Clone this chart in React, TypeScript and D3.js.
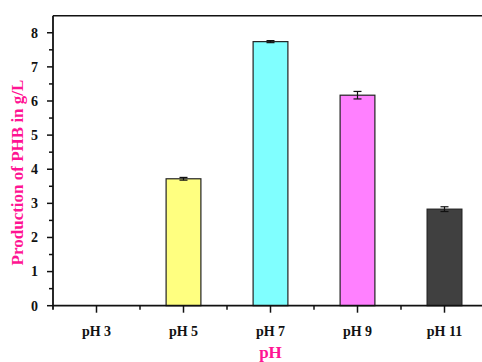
import React from "react";
import * as d3 from "d3";

const categories = ["pH 3", "pH 5", "pH 7", "pH 9", "pH 11"];
const values = [0, 3.72, 7.74, 6.17, 2.83];
const errors = [0, 0.04, 0.03, 0.11, 0.07];
const colors = ["#ffffff", "#ffff80", "#80ffff", "#ff80ff", "#404040"];
const yTicks = [0, 1, 2, 3, 4, 5, 6, 7, 8];
const yMinor = [0.5, 1.5, 2.5, 3.5, 4.5, 5.5, 6.5, 7.5];
const xMinor = [0.5, 1.5, 2.5, 3.5];

const W = 482;
const H = 362;
const left = 53;
const top = 15.7;
const bottom = 305.7;
const step = 87;

export default function App() {
  const x = d3.scaleLinear().domain([-0.5, 4.5]).range([left, left + step * 5]);
  const y = d3.scaleLinear().domain([0, 8.5]).range([bottom, top]);
  const bw = step * 0.4;
  const font = "'Liberation Serif', 'Times New Roman', serif";
  const pink = "#ff1493";
  return (
    <svg width={W} height={H} style={{ position: "absolute", left: 0, top: 0, background: "#fff" }}>
      {/* bars */}
      {values.map((v, i) =>
        v > 0 ? (
          <g key={i}>
            <rect
              x={x(i) - bw / 2}
              y={y(v)}
              width={bw}
              height={bottom - y(v)}
              fill={colors[i]}
              stroke="#222"
              strokeWidth={1.2}
            />
            <line x1={x(i)} x2={x(i)} y1={y(v + errors[i])} y2={y(v - errors[i])} stroke="#111" strokeWidth={1.2} />
            <line x1={x(i) - 4} x2={x(i) + 4} y1={y(v + errors[i])} y2={y(v + errors[i])} stroke="#111" strokeWidth={1.2} />
            <line x1={x(i) - 4} x2={x(i) + 4} y1={y(v - errors[i])} y2={y(v - errors[i])} stroke="#111" strokeWidth={1.2} />
          </g>
        ) : null
      )}
      {/* frame */}
      <line x1={left} x2={W} y1={top} y2={top} stroke="#111" strokeWidth={1.6} />
      <line x1={left} x2={W} y1={bottom} y2={bottom} stroke="#111" strokeWidth={1.8} />
      <line x1={left} x2={left} y1={top} y2={bottom + 4} stroke="#111" strokeWidth={1.8} />
      {/* y ticks */}
      {yTicks.map((t) => (
        <g key={t}>
          <line x1={left - 6} x2={left} y1={y(t)} y2={y(t)} stroke="#111" strokeWidth={1.5} />
          <text x={38} y={y(t)} dy="0.35em" textAnchor="end" fontFamily={font} fontWeight="bold" fontSize={14} fill="#111">
            {t}
          </text>
        </g>
      ))}
      {yMinor.map((t) => (
        <line key={t} x1={left - 4} x2={left} y1={y(t)} y2={y(t)} stroke="#111" strokeWidth={1.5} />
      ))}
      {/* x ticks */}
      {categories.map((c, i) => (
        <g key={c}>
          <line x1={x(i)} x2={x(i)} y1={bottom} y2={bottom + 7} stroke="#111" strokeWidth={1.5} />
          <text x={x(i)} y={336} textAnchor="middle" fontFamily={font} fontWeight="bold" fontSize={14} fill="#111">
            {c}
          </text>
        </g>
      ))}
      {xMinor.map((t) => (
        <line key={t} x1={x(t)} x2={x(t)} y1={bottom} y2={bottom + 4} stroke="#111" strokeWidth={1.5} />
      ))}
      {/* axis titles */}
      <text x={270.5} y={358} textAnchor="middle" fontFamily={font} fontWeight="bold" fontSize={17} fill={pink}>
        pH
      </text>
      <text
        transform={`translate(23, 172.5) rotate(-90)`}
        textAnchor="middle"
        fontFamily={font}
        fontWeight="bold"
        fontSize={17}
        fill={pink}
      >
        Production of PHB in g/L
      </text>
    </svg>
  );
}
